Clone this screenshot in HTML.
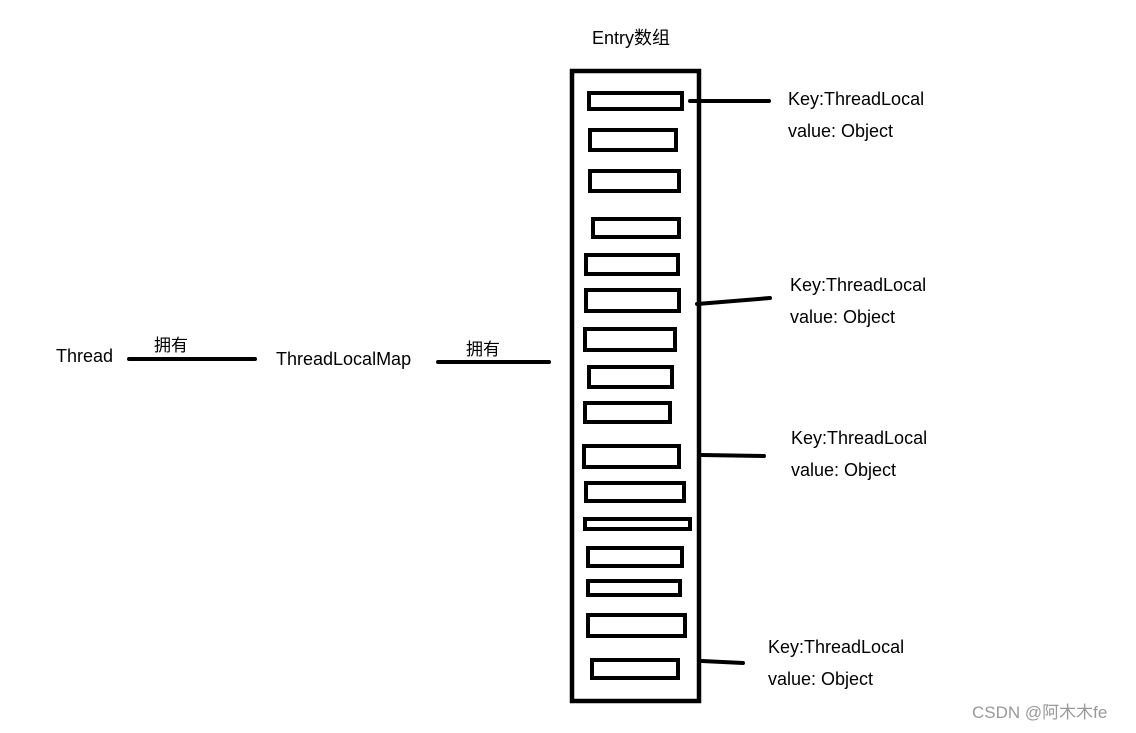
<!DOCTYPE html>
<html><head><meta charset="utf-8"><style>
body{margin:0;background:#fff;width:1136px;height:728px;overflow:hidden}
svg text{font-family:"Liberation Sans","Noto Sans CJK SC",sans-serif;font-size:18px;fill:#000}
</style></head><body>
<svg width="1136" height="728" xmlns="http://www.w3.org/2000/svg">
<g fill="none" stroke="#000" stroke-width="4.5">
<rect x="572" y="71" width="127" height="630"/>
</g>
<g fill="none" stroke="#000" stroke-width="4">
<rect x="589" y="93" width="93" height="16"/>
<rect x="590" y="130" width="86" height="20"/>
<rect x="590" y="171" width="89" height="20"/>
<rect x="593" y="219" width="86" height="18"/>
<rect x="586" y="255" width="92" height="19"/>
<rect x="586" y="290" width="93" height="21"/>
<rect x="585" y="329" width="90" height="21"/>
<rect x="589" y="367" width="83" height="20"/>
<rect x="585" y="403" width="85" height="19"/>
<rect x="584" y="446" width="95" height="21"/>
<rect x="586" y="483" width="98" height="18"/>
<rect x="585" y="519" width="105" height="10"/>
<rect x="588" y="548" width="94" height="18"/>
<rect x="588" y="581" width="92" height="14"/>
<rect x="588" y="615" width="97" height="21"/>
<rect x="592" y="660" width="86" height="18"/>
</g>
<g stroke="#000" stroke-width="4" stroke-linecap="round">
<line x1="690" y1="101" x2="769" y2="101"/>
<line x1="697" y1="304" x2="770" y2="298"/>
<line x1="702" y1="455" x2="764" y2="456"/>
<line x1="702" y1="661" x2="743" y2="663"/>
<line x1="129" y1="359" x2="255" y2="359"/>
<line x1="438" y1="362" x2="549" y2="362"/>
</g>
<text x="592" y="44">Entry数组</text>
<text x="56" y="362">Thread</text>
<text x="154" y="351" style="font-size:17px">拥有</text>
<text x="276" y="365">ThreadLocalMap</text>
<text x="466" y="355" style="font-size:17px">拥有</text>
<text x="788" y="105">Key:ThreadLocal</text>
<text x="788" y="137">value: Object</text>
<text x="790" y="291">Key:ThreadLocal</text>
<text x="790" y="323">value: Object</text>
<text x="791" y="444">Key:ThreadLocal</text>
<text x="791" y="476">value: Object</text>
<text x="768" y="653">Key:ThreadLocal</text>
<text x="768" y="685">value: Object</text>
<text x="972" y="718" style="font-size:17px;fill:#999">CSDN @阿木木fe</text>
</svg>
</body></html>
